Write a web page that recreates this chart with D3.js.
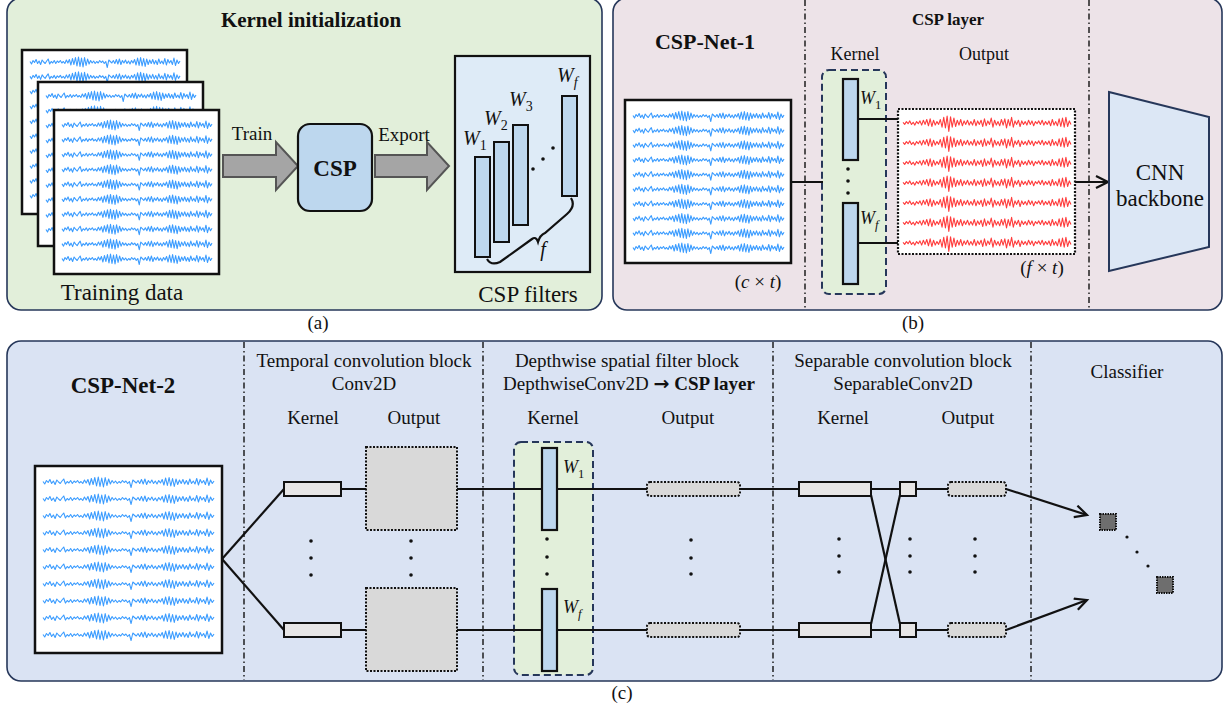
<!DOCTYPE html>
<html>
  <head>
    <meta charset="utf-8">
    <title>CSP-Net overview</title>
    <script src="https://d3js.org/d3.v7.min.js"></script>
    <style>
      body { margin: 0; background: #fff; }
      svg text { fill: #111; }
    </style>
  </head>
  <body>
    <svg id="chart" width="1232" height="710" font-family="'Liberation Serif', 'Times New Roman', 'DejaVu Serif', serif"></svg>
    <script>
      // ---- data ----
      // hand-read EEG-like trace (one row, normalised -1..1), repeated for every channel row
      var blueWave = [
        0.1,-0.4,0.3,-0.1,0.5,-0.3,0.2,-0.5,0.4,0.0,
        -0.3,0.2,0.6,-0.4,0.1,-0.2,0.3,-0.3,0.2,-0.1,
        0.3,-0.2,0.1,-0.3,0.4,-0.2,0.5,-0.6,0.7,-0.5,
        0.9,-0.8,1.0,-0.9,0.8,-1.0,0.9,-0.7,0.6,-0.4,
        0.3,-0.2,0.2,-0.3,0.1,-0.2,0.3,-0.1,0.2,-0.3,
        0.1,-1.1,0.4,0.1,-0.2,0.3,-0.3,0.5,-0.4,0.6,
        -0.5,0.3,-0.2,0.4,-0.3,0.2,-0.4,0.3,-0.2,0.5,
        -0.6,0.8,-0.7,0.9,-0.8,0.7,-0.9,0.6,-0.5,0.4,
        -0.3,0.5,-0.4,0.3,-0.5,0.6,-0.3,0.2,-0.4,0.7,
        -0.6,0.5,-0.2,0.3,-0.5,0.8,-0.7,0.4,-0.3,0.2
      ];
      var redWave = [
        0.1,-0.2,0.2,-0.1,0.3,-0.2,0.1,-0.3,0.2,-0.1,
        0.3,-0.3,0.4,-0.2,0.5,-0.4,0.6,-0.5,0.4,-0.3,
        0.2,-0.2,0.5,-0.6,0.8,-0.7,1.0,-1.2,0.9,-0.6,
        0.7,-0.5,0.4,-0.3,0.5,-0.4,0.3,-0.2,0.4,-0.3,
        0.2,-0.3,0.5,-0.4,0.3,-0.2,0.4,-0.5,0.6,-0.4,
        0.3,-0.2,0.7,-0.6,0.4,-0.3,0.2,-0.4,0.5,-0.3,
        0.6,-0.7,0.5,-0.4,0.8,-0.6,0.3,-0.2,0.4,-0.5,
        0.3,-0.2,0.2,-0.3,0.4,-0.2,0.3,-0.4,0.2,-0.1,
        0.3,-0.2,0.4,-0.3,0.2,-0.2,0.3,-0.4,0.5,-0.3,
        0.2,-0.4,0.6,-0.5,0.7,-0.6,0.8,-0.5,0.3,-0.2
      ];
      var panelLabels = ["(a)", "(b)", "(c)"];
      var panelATexts = ["Kernel initialization", "Train", "Export", "CSP", "Training data", "CSP filters"];
      var filterSubs = ["1", "2", "3", "f"];
      var panelBTexts = ["CSP-Net-1", "CSP layer", "Kernel", "Output", "CNN", "backbone"];
      var blockTitles = [
        ["Temporal convolution block", "Conv2D"],
        ["Depthwise spatial filter block", "DepthwiseConv2D "],
        ["Separable convolution block", "SeparableConv2D"],
        ["Classifier"]
      ];
      var colLabels = ["Kernel", "Output"];

      var svg = d3.select("#chart");
      var defs = svg.append("defs");
      defs.append("marker")
          .attr("id", "openArrow")
          .attr("markerUnits", "userSpaceOnUse")
          .attr("markerWidth", 16).attr("markerHeight", 16)
          .attr("refX", 13).attr("refY", 7)
          .attr("orient", "auto")
        .append("path")
          .attr("d", "M1,1 L13,7 L1,13")
          .attr("fill", "none").attr("stroke", "#111").attr("stroke-width", 2.2);

      var line = d3.line();

      function panel(x, y, w, h, fill) {
        svg.append("rect")
          .attr("x", x).attr("y", y).attr("width", w).attr("height", h)
          .attr("rx", 14)
          .attr("fill", fill).attr("stroke", "#26375a").attr("stroke-width", 1.6);
      }
      function divider(x, y0, y1) {
        svg.append("line")
          .attr("x1", x).attr("x2", x).attr("y1", y0).attr("y2", y1)
          .attr("stroke", "#111").attr("stroke-width", 1.4)
          .attr("stroke-dasharray", "6,3,1.5,3");
      }
      function label(txt, x, y, size, bold, g) {
        return (g || svg).append("text")
          .attr("x", x).attr("y", y)
          .attr("text-anchor", "middle")
          .attr("font-size", size)
          .attr("font-weight", bold ? "bold" : "normal")
          .text(txt);
      }
      function box(x, y, w, h, fill, opts) {
        opts = opts || {};
        return svg.append("rect")
          .attr("x", x).attr("y", y).attr("width", w).attr("height", h)
          .attr("rx", opts.rx || 0)
          .attr("fill", fill)
          .attr("stroke", opts.stroke || "#111")
          .attr("stroke-width", opts.sw || 2)
          .attr("stroke-dasharray", opts.dash || null);
      }
      function seg(x1, y1, x2, y2, sw, arrow) {
        svg.append("path")
          .attr("d", line([[x1, y1], [x2, y2]]))
          .attr("stroke", "#111").attr("stroke-width", sw || 2).attr("fill", "none")
          .attr("marker-end", arrow ? "url(#openArrow)" : null);
      }
      function dot(x, y, r) {
        svg.append("circle").attr("cx", x).attr("cy", y).attr("r", r || 1.8).attr("fill", "#111");
      }
      function vdots(x, ys) { ys.forEach(function(y) { dot(x, y); }); }
      function signals(x0, x1, rowTop, rowBottom, nRows, wave, amp, color) {
        var xs = d3.scaleLinear().domain([0, wave.length - 1]).range([x0, x1]);
        var rows = d3.scaleLinear().domain([0, nRows - 1]).range([rowTop, rowBottom]);
        d3.range(nRows).forEach(function(r) {
          var ys = d3.scaleLinear().domain([-1, 1]).range([rows(r) + amp, rows(r) - amp]);
          svg.append("path")
            .attr("d", line(wave.map(function(v, i) { return [xs(i), ys(v)]; })))
            .attr("fill", "none").attr("stroke", color).attr("stroke-width", 1.1)
            .attr("stroke-linejoin", "round");
        });
      }
      function wLabel(x, y, sub, size) {
        var t = svg.append("text").attr("x", x).attr("y", y).attr("font-size", size || 18);
        t.append("tspan").attr("font-style", "italic").text("W");
        t.append("tspan").attr("font-size", (size || 18) * 0.7).attr("dy", 5)
          .attr("font-style", sub === "f" ? "italic" : "normal").text(sub);
      }
      function mathDim(x, y, a) {
        var t = svg.append("text").attr("x", x).attr("y", y).attr("font-size", 19).attr("text-anchor", "middle");
        t.append("tspan").text("(");
        t.append("tspan").attr("font-style", "italic").text(a);
        t.append("tspan").text(" × ");
        t.append("tspan").attr("font-style", "italic").text("t");
        t.append("tspan").text(")");
      }
      function blockArrow(x0, xHead, xTip, cy) {
        svg.append("path")
          .attr("d", line([[x0, cy - 11], [xHead, cy - 11], [xHead, cy - 24], [xTip, cy],
                           [xHead, cy + 24], [xHead, cy + 11], [x0, cy + 11]]) + "Z")
          .attr("fill", "#a5a5a5").attr("stroke", "#555").attr("stroke-width", 2);
      }

      // ===== panel (a) =====
      panel(7, -2, 595, 312, "#e2efda");
      label(panelATexts[0], 311, 27, 21, true);
      [[22, 50], [38, 82], [54, 110]].forEach(function(p, i) {
        box(p[0], p[1], 165, 164, "#fff", { sw: 2.5 });
        var top = [62, 96, 125][i];
        signals(p[0] + 8, p[0] + 158, top, top + 134, 10, blueWave, 5, "#3b9cff");
      });
      label(panelATexts[4], 122, 300, 23);
      blockArrow(223, 276, 298, 166);
      label(panelATexts[1], 252, 140, 19);
      box(298, 124, 74, 87, "#bdd7ee", { rx: 12, sw: 2.2 });
      label(panelATexts[3], 335, 176, 23, true);
      blockArrow(375, 427, 449, 166);
      label(panelATexts[2], 404, 141, 19);
      box(455, 56, 135, 216, "#deebf7", { sw: 2.2 });
      var filterBars = [[475, 157], [494, 142], [513, 125], [562, 96]];
      var filterLab = [[463, 145], [484, 125], [509, 106], [557, 82]];
      filterBars.forEach(function(b, i) {
        box(b[0], b[1], 15, 100, "#bdd7ee", { sw: 2 });
        wLabel(filterLab[i][0], filterLab[i][1], filterSubs[i], 20);
      });
      dot(533, 169); dot(543, 159); dot(553, 148);
      svg.append("path")
        .attr("d", "M487,259 Q491,266 500,262 L532,239 Q536,236 538,242 Q540,235 545,233 L567,214 Q576,206 571,198")
        .attr("fill", "none").attr("stroke", "#111").attr("stroke-width", 2.2);
      svg.append("text").attr("x", 543).attr("y", 256).attr("font-size", 20)
        .attr("font-style", "italic").attr("text-anchor", "middle").text("f");
      label(panelATexts[5], 528, 302, 23);
      label(panelLabels[0], 318, 329, 19);

      // ===== panel (b) =====
      panel(613, -2, 609, 312, "#ede3e8");
      divider(805, 0, 310);
      divider(1089, 0, 310);
      label(panelBTexts[0], 705, 49, 22, true);
      box(625, 100, 166, 163, "#fff", { sw: 2.5 });
      signals(633, 784, 116, 248, 10, blueWave, 5, "#3b9cff");
      mathDim(758, 288, "c");
      label(panelBTexts[1], 948, 25, 17, true);
      label(panelBTexts[2], 855, 60, 18);
      label(panelBTexts[3], 984, 60, 18);
      box(822, 70, 64, 224, "#e2efda", { rx: 7, sw: 2, stroke: "#26375a", dash: "7,4" });
      seg(791, 182, 823, 182, 2);
      seg(857, 119, 899, 119, 2);
      seg(857, 243, 899, 243, 2);
      box(843, 79, 15, 81, "#bdd7ee", { sw: 2.2 });
      box(843, 203, 15, 81, "#bdd7ee", { sw: 2.2 });
      vdots(848, [169, 181, 193]);
      wLabel(860, 104, "1", 18);
      wLabel(860, 224, "f", 18);
      box(898, 109, 177, 145, "#fff", { sw: 2.2, dash: "2,1.5" });
      signals(903, 1071, 123, 243, 7, redWave, 7, "#ff3c3c");
      mathDim(1042, 274, "f");
      seg(1075, 182, 1108, 182, 2, true);
      svg.append("path")
        .attr("d", line([[1109, 92], [1209, 117], [1209, 247], [1109, 271]]) + "Z")
        .attr("fill", "#dce7f5").attr("stroke", "#26375a").attr("stroke-width", 2);
      label(panelBTexts[4], 1160, 180, 23);
      label(panelBTexts[5], 1160, 206, 23);
      label(panelLabels[1], 913, 329, 19);

      // ===== panel (c) =====
      panel(7, 341, 1215, 340, "#dae3f3");
      [244, 483, 773, 1031].forEach(function(x) { divider(x, 342, 680); });
      label("CSP-Net-2", 123, 393, 23, true);
      box(35, 466, 187, 187, "#fff", { sw: 2.5 });
      signals(43, 214, 482, 635, 10, blueWave, 5, "#3b9cff");
      var yTop = 489, yBot = 630;
      seg(222, 559, 284, yTop, 2.2);
      seg(222, 559, 284, yBot, 2.2);

      // temporal block
      label(blockTitles[0][0], 364, 367, 19);
      label(blockTitles[0][1], 364, 390, 19);
      label(colLabels[0], 313, 424, 19);
      label(colLabels[1], 414, 424, 19);
      [yTop, yBot].forEach(function(y) {
        seg(341, y, 366, y, 2);
        seg(457, y, 800, y, 2);
        box(284, y - 7, 57, 14, "#e7e6e6", { sw: 2 });
        box(366, y - 42, 91, 83, "#d9d9d9", { sw: 2, dash: "2,1.5" });
      });
      vdots(311, [541, 558, 575]);
      vdots(411, [541, 558, 575]);

      // depthwise block
      label(blockTitles[1][0], 627, 367, 19);
      var t3 = label(blockTitles[1][1], 629, 390, 19);
      t3.append("tspan").attr("font-weight", "bold").attr("font-family", "'DejaVu Sans', sans-serif").text("→");
      t3.append("tspan").attr("font-weight", "bold").text(" CSP layer");
      label(colLabels[0], 553, 424, 19);
      label(colLabels[1], 688, 424, 19);
      box(514, 442, 79, 233, "#e2efda", { rx: 7, sw: 2, stroke: "#26375a", dash: "7,4" });
      [yTop, yBot].forEach(function(y) {
        seg(457, y, 542, y, 2);
        seg(557, y, 648, y, 2);
        box(542, y - 41, 15, 82, "#bdd7ee", { sw: 2.2 });
        box(647, y - 7, 93, 14, "#d9d9d9", { rx: 3, sw: 2, dash: "2,1.5" });
      });
      wLabel(563, 473, "1", 18);
      wLabel(563, 613, "f", 18);
      vdots(547, [539, 557, 574]);
      vdots(691, [540, 558, 574]);

      // separable block
      label(blockTitles[2][0], 903, 367, 19);
      label(blockTitles[2][1], 903, 390, 19);
      label(colLabels[0], 843, 424, 19);
      label(colLabels[1], 968, 424, 19);
      seg(740, yTop, 800, yTop, 2);
      seg(740, yBot, 800, yBot, 2);
      seg(871, yTop + 6, 900, yBot - 6, 2.2);
      seg(871, yBot - 6, 900, yTop + 6, 2.2);
      [yTop, yBot].forEach(function(y) {
        seg(871, y, 900, y, 2);
        seg(916, y, 948, y, 2);
        box(799, y - 7, 72, 14, "#e7e6e6", { sw: 2 });
        box(900, y - 7, 16, 14, "#e7e6e6", { sw: 2 });
        box(948, y - 7, 58, 14, "#d9d9d9", { rx: 3, sw: 2, dash: "2,1.5" });
      });
      vdots(839, [539, 556, 572]);
      vdots(910, [539, 556, 572]);
      vdots(975, [539, 556, 572]);
      seg(1006, yTop, 1087, 515, 2.2, true);
      seg(1006, yBot, 1087, 600, 2.2, true);

      // classifier
      label(blockTitles[3][0], 1127, 378, 19);
      box(1100, 514, 16, 16, "#6e6e6e", { sw: 2, dash: "1.5,1" });
      box(1157, 577, 16, 16, "#6e6e6e", { sw: 2, dash: "1.5,1" });
      dot(1127, 537, 1.6); dot(1137, 552, 1.6); dot(1148, 566, 1.6);
      label(panelLabels[2], 622, 699, 19);
    </script>
  </body>
</html>
